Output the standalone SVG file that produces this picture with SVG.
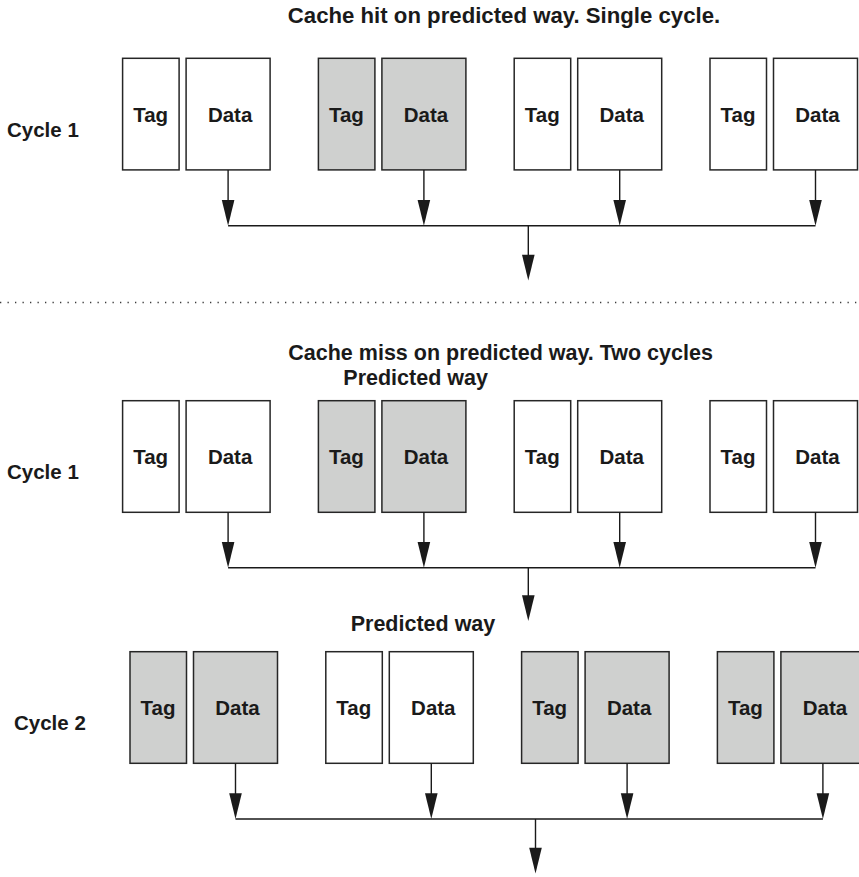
<svg xmlns="http://www.w3.org/2000/svg" width="859" height="877" viewBox="0 0 859 877">
  <style>
    text { font-family: "Liberation Sans", Arial, Helvetica, sans-serif; font-weight: bold; fill: #1a1a1a; }
    .title { font-size: 21.5px; }
    .title-lg { font-size: 22.2px; }
    .label { font-size: 20.5px; }
    .cell { font-size: 20.5px; text-anchor: middle; }
    .box { stroke: #262626; stroke-width: 1.5; fill: #ffffff; }
    .hit { fill: #cfd0cf; }
    .wire { stroke: #1a1a1a; stroke-width: 1.4; fill: none; }
    .head { fill: #1a1a1a; stroke: none; }
    .sep { stroke: #3a3a3a; stroke-width: 1.3; stroke-dasharray: 1.3 6.2; }
  </style>
  <defs>
    <!-- a single way: tag array + data array -->
    <g id="way">
      <rect class="box" x="0" y="0" width="56.5" height="111.6"/>
      <rect class="box" x="63.5" y="0" width="84" height="111.6"/>
    </g>
    <g id="wayHit">
      <rect class="box hit" x="0" y="0" width="56.5" height="111.6"/>
      <rect class="box hit" x="63.5" y="0" width="84" height="111.6"/>
    </g>
    <g id="wayText">
      <text class="cell" x="28" y="63.5">Tag</text>
      <text class="cell" x="107.5" y="63.5">Data</text>
    </g>
    <polygon id="arrowHead" class="head" points="-6.3,-25.7 6.3,-25.7 0,0"/>
  </defs>

  <!-- section titles -->
  <text class="title-lg" x="504" y="23" text-anchor="middle">Cache hit on predicted way. Single cycle.</text>
  <text class="title" x="288.3" y="360">Cache miss on predicted way. Two cycles</text>
  <text class="title" x="343.3" y="385">Predicted way</text>
  <text class="title" x="350.7" y="631">Predicted way</text>

  <!-- row labels -->
  <text class="label" x="7" y="136.5">Cycle 1</text>
  <text class="label" x="7" y="478.5">Cycle 1</text>
  <text class="label" x="14" y="730">Cycle 2</text>

  <!-- separator -->
  <line class="sep" x1="0" y1="302.5" x2="859" y2="302.5"/>

  <!-- Row A: single-cycle hit -->
  <g id="rowA-way0" transform="translate(122.6,58.3)"><use href="#way"/><use href="#wayText"/></g>
  <g id="rowA-way1" transform="translate(318.4,58.3)"><use href="#wayHit"/><use href="#wayText"/></g>
  <g id="rowA-way2" transform="translate(514.2,58.3)"><use href="#way"/><use href="#wayText"/></g>
  <g id="rowA-way3" transform="translate(710,58.3)"><use href="#way"/><use href="#wayText"/></g>

  <!-- Row B: first cycle of a miss -->
  <g id="rowB-way0" transform="translate(122.6,400.7)"><use href="#way"/><use href="#wayText"/></g>
  <g id="rowB-way1" transform="translate(318.4,400.7)"><use href="#wayHit"/><use href="#wayText"/></g>
  <g id="rowB-way2" transform="translate(514.2,400.7)"><use href="#way"/><use href="#wayText"/></g>
  <g id="rowB-way3" transform="translate(710,400.7)"><use href="#way"/><use href="#wayText"/></g>

  <!-- Row C: second cycle of a miss -->
  <g id="rowC-way0" transform="translate(130,651.7)"><use href="#wayHit"/><use href="#wayText"/></g>
  <g id="rowC-way1" transform="translate(325.8,651.7)"><use href="#way"/><use href="#wayText"/></g>
  <g id="rowC-way2" transform="translate(521.6,651.7)"><use href="#wayHit"/><use href="#wayText"/></g>
  <g id="rowC-way3" transform="translate(717.4,651.7)"><use href="#wayHit"/><use href="#wayText"/></g>

  <!-- connectors: data outputs merged onto a bus, then one output -->
  <g id="connectors">
    <g id="busA">
      <path class="wire" d="M228.1,169.9V200 M423.9,169.9V200 M619.7,169.9V200 M815.5,169.9V200 M228.1,225.7H815.5 M528.3,225.7V256"/>
      <use href="#arrowHead" x="228.1" y="225.7"/>
      <use href="#arrowHead" x="423.9" y="225.7"/>
      <use href="#arrowHead" x="619.7" y="225.7"/>
      <use href="#arrowHead" x="815.5" y="225.7"/>
      <use href="#arrowHead" x="528.3" y="280.5"/>
    </g>
    <g id="busB">
      <path class="wire" d="M228.1,512.3V542 M423.9,512.3V542 M619.7,512.3V542 M815.5,512.3V542 M228.1,567.7H815.5 M528.3,567.7V596"/>
      <use href="#arrowHead" x="228.1" y="567.7"/>
      <use href="#arrowHead" x="423.9" y="567.7"/>
      <use href="#arrowHead" x="619.7" y="567.7"/>
      <use href="#arrowHead" x="815.5" y="567.7"/>
      <use href="#arrowHead" x="528.3" y="621"/>
    </g>
    <g id="busC">
      <path class="wire" d="M235.5,763.3V794 M431.3,763.3V794 M627.1,763.3V794 M822.9,763.3V794 M235.5,819H822.9 M535.5,819V848"/>
      <use href="#arrowHead" x="235.5" y="819"/>
      <use href="#arrowHead" x="431.3" y="819"/>
      <use href="#arrowHead" x="627.1" y="819"/>
      <use href="#arrowHead" x="822.9" y="819"/>
      <use href="#arrowHead" x="535.5" y="873.5"/>
    </g>
  </g>
</svg>
